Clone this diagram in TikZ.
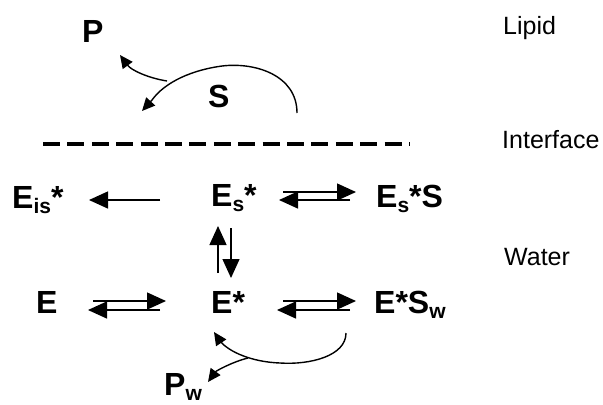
\documentclass[tikz,border=0pt]{standalone}
\usepackage{fontspec}
\setmainfont{Liberation Sans}
\usetikzlibrary{arrows.meta}
\newcommand\lowsub[1]{\raisebox{-5.5bp}{\fontsize{21bp}{21bp}\selectfont #1}}
\tikzset{
  big/.style={font=\fontsize{32bp}{32bp}\selectfont\bfseries, inner sep=0pt, anchor=base west},
  region/.style={font=\fontsize{25bp}{25bp}\selectfont, inner sep=0pt, anchor=base west},
  rx/.style={line width=1.4bp, -{Triangle[length=19bp,width=17bp]}},
  curv/.style={line width=1.4bp, -{Triangle[length=13bp,width=12bp]}},
}
\begin{document}
\begin{tikzpicture}[x=1bp,y=-1bp]
\useasboundingbox (0,0) rectangle (603,404);
% labels
\node[big] (P) at (82,42) {P};
\node[big] (S) at (208,107) {S};
\node[region] (lipid) at (503,34) {Lipid};
\node[region] (interface) at (502,148) {Interface};
\node[region] (water) at (504,265) {Water};
\node[big] (Eis) at (12,208) {E\lowsub{is}*};
\node[big] (Es) at (211,206) {E\lowsub{s}*};
\node[big] (EsS) at (376,207) {E\lowsub{s}*S};
\node[big] (E) at (36,313) {E};
\node[big] (Est) at (211,313) {E*};
\node[big] (EsSw) at (374,313) {E*S\lowsub{w}};
\node[big] (Pw) at (164,395) {P\lowsub{w}};
% interface line
\draw[line width=4.5bp, dash pattern=on 17bp off 7.4bp] (43,144) coordinate (d1) -- (410,144) coordinate (d2);
% coordinates for connectors
\coordinate (a1s) at (160,200); \coordinate (a1e) at (89,200);
\coordinate (b1s) at (283,192); \coordinate (b1e) at (356,192);
\coordinate (b2s) at (350,200); \coordinate (b2e) at (279,200);
\coordinate (v1s) at (218,273); \coordinate (v1e) at (218,226);
\coordinate (v2s) at (231,228); \coordinate (v2e) at (231,278);
\coordinate (c1s) at (93,301); \coordinate (c1e) at (166,301);
\coordinate (c2s) at (160,310); \coordinate (c2e) at (88,310);
\coordinate (e1s) at (283,301); \coordinate (e1e) at (356,301);
\coordinate (e2s) at (350,310); \coordinate (e2e) at (277,310);
\draw[rx] (a1s) -- (a1e);
\draw[rx] (b1s) -- (b1e);
\draw[rx] (b2s) -- (b2e);
\draw[rx] (v1s) -- (v1e);
\draw[rx] (v2s) -- (v2e);
\draw[rx] (c1s) -- (c1e);
\draw[rx] (c2s) -- (c2e);
\draw[rx] (e1s) -- (e1e);
\draw[rx] (e2s) -- (e2e);
% upper arc
\coordinate (u0) at (297,113);
\coordinate (uj) at (167,81);
\coordinate (ue) at (142,111);
\coordinate (up) at (120,55);
\draw[curv] (u0) .. controls (297,75) and (255,62) .. (222,66) .. controls (192,70) and (165,82) .. (152,100) -- (ue);
\draw[curv] (uj) .. controls (148,78) and (131,70) .. (up);
% lower arc
\coordinate (l0) at (346,333);
\coordinate (lj) at (248,358);
\coordinate (le) at (214,332);
\coordinate (lp) at (208,382);
\draw[curv] (l0) .. controls (346,356) and (310,365) .. (280,363) .. controls (252,362) and (229,352) .. (220,341) -- (le);
\draw[curv] (lj) .. controls (232,362) and (216,371) .. (lp);
\end{tikzpicture}
\end{document}
